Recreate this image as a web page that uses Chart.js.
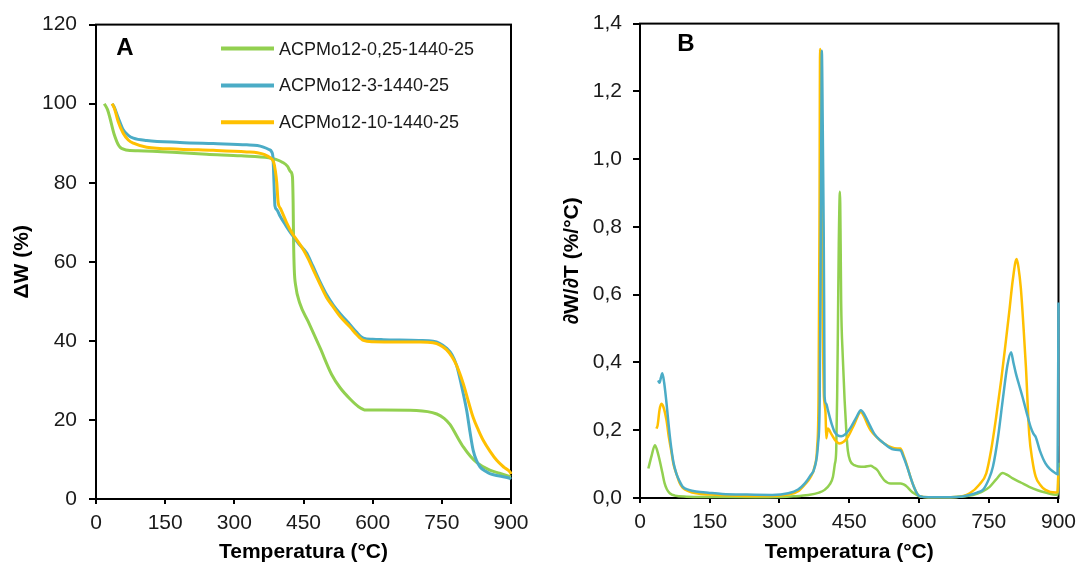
<!DOCTYPE html>
<html>
<head>
<meta charset="utf-8">
<script src="https://cdn.jsdelivr.net/npm/chart.js@4/dist/chart.umd.min.js"></script>
<style>
  html, body { margin: 0; padding: 0; background: #fff; }
  #wrap { position: relative; width: 1083px; height: 569px; overflow: hidden; }
  #cA { position: absolute; left: 0; top: 0; }
  #cB { position: absolute; left: 540px; top: 0; }
</style>
</head>
<body>
<div id="wrap">
  <canvas id="cA" width="540" height="569"></canvas>
  <canvas id="cB" width="543" height="569"></canvas>
</div>
<script>
// ---------- Data ----------
const seriesNames = ['ACPMo12-0,25-1440-25', 'ACPMo12-3-1440-25', 'ACPMo12-10-1440-25'];
const seriesColors = ['#92D050', '#4BACC6', '#FFC000'];

const xTickValues = [0, 150, 300, 450, 600, 750, 900];
const yTickValuesA = [0, 20, 40, 60, 80, 100, 120];
const yTickValuesB = [0, 0.2, 0.4, 0.6, 0.8, 1.0, 1.2, 1.4];
const yTickLabelsB = ['0,0', '0,2', '0,4', '0,6', '0,8', '1,0', '1,2', '1,4'];

// Panel A: TGA (ΔW %)
const tgaGreenT = [18, 25, 30, 39, 50, 65, 91, 166, 240, 315, 375, 390, 404, 415, 422, 426, 427.5, 428.5, 430, 433, 442, 460, 486, 511, 529, 551, 570, 585, 623, 695, 739, 755, 768, 783, 797, 812, 826, 854, 875, 900];
const tgaGreenW = [100, 98.5, 96.5, 92.4, 89.3, 88.3, 88.1, 87.7, 87.2, 86.8, 86.3, 85.9, 85.2, 84.2, 82.8, 81.5, 75, 65, 58, 54, 49.5, 44.9, 38.2, 31.5, 28.2, 25.3, 23.3, 22.5, 22.5, 22.4, 21.5, 20.4, 18.8, 15.8, 13.1, 10.8, 9.2, 7.3, 6.5, 5.6];

const tgaBlueT = [35, 40, 48, 59, 70, 81, 110, 182, 254, 327, 350, 363, 375, 381, 384, 386, 388, 392, 399, 410, 421, 428, 440, 457, 470, 486, 500, 515, 530, 551, 565, 580, 600, 623, 700, 731, 745, 760, 772, 782, 793, 804, 811, 818, 825, 833, 845, 854, 875, 898, 900];
const tgaBlueW = [100, 99, 96.5, 93.4, 92, 91.3, 90.7, 90.2, 89.9, 89.6, 89.4, 89, 88.4, 87.8, 86, 80, 74.2, 73.2, 71.6, 69.5, 67.5, 66.4, 64.5, 62.2, 59, 54.9, 51.7, 49, 46.8, 44.1, 42.2, 40.7, 40.4, 40.3, 40.1, 39.9, 39.4, 38.2, 36.5, 33.8, 28.5, 22.3, 17, 12.3, 9.8, 8.1, 7, 6.4, 5.8, 5.2, 5.0];

const tgaOrangeT = [35, 40, 48, 59, 70, 81, 110, 182, 254, 327, 350, 366, 378, 385, 389, 392, 395, 400, 413, 425, 435, 450, 460, 475, 486, 500, 515, 530, 551, 565, 580, 600, 700, 731, 745, 760, 772, 782, 797, 808, 818, 829, 840, 855, 869, 885, 898, 900];
const tgaOrangeW = [100, 98.8, 95.5, 92.5, 90.8, 90, 89, 88.5, 88.2, 87.8, 87.6, 87.1, 86.3, 85.3, 83, 80, 75, 73.5, 70, 67.3, 65.6, 63, 60.8, 57, 54.3, 51, 48.5, 46.1, 43.5, 41.6, 40.1, 39.8, 39.7, 39.5, 39, 37.8, 36, 33.8, 29, 24.5, 20.6, 17.5, 14.8, 12, 9.8, 8, 6.8, 6.3];

// Panel B: DTG (∂W/∂T %/°C)
const dtgGreenT = [18, 25, 32, 37, 42.5, 48, 53, 58, 64, 75, 100, 150, 250, 300, 330, 362, 385, 397, 408, 415, 419, 422, 424, 425.5, 427.5, 430, 431.5, 432.6, 436, 440, 444, 447, 452, 461, 482, 496, 503, 510.6, 518, 525, 539, 560, 567, 574.5, 582, 589, 603, 620, 680, 716, 735, 752, 766, 780, 790, 801.5, 820, 837, 855, 872, 897, 899, 900];
const dtgGreenV = [0.087, 0.125, 0.156, 0.14, 0.11, 0.075, 0.043, 0.025, 0.014, 0.007, 0.004, 0.003, 0.002, 0.003, 0.005, 0.009, 0.016, 0.024, 0.04, 0.063, 0.1, 0.14, 0.3, 0.485, 0.75, 0.904, 0.75, 0.58, 0.42, 0.29, 0.19, 0.14, 0.11, 0.097, 0.092, 0.095, 0.09, 0.082, 0.066, 0.053, 0.043, 0.043, 0.04, 0.033, 0.022, 0.014, 0.004, 0.002, 0.003, 0.009, 0.018, 0.033, 0.055, 0.074, 0.068, 0.058, 0.045, 0.033, 0.023, 0.016, 0.009, 0.03, 0.104];

const dtgBlueT = [39, 42, 45, 48, 52, 57, 62, 67, 72, 78, 85, 92, 105, 120.6, 150, 177, 230, 284, 319, 340, 354.6, 366, 376, 383, 386.5, 388.5, 390, 391, 393, 395, 396, 397, 400.7, 404, 408, 413, 418.5, 425, 432.6, 443, 454, 465, 475, 482, 489, 496, 503.6, 515, 525, 535, 546, 560, 567, 574.5, 582, 589, 595, 600, 620, 680, 709, 725, 737.6, 750, 759, 770, 780, 790, 798, 803, 808.5, 815, 822.7, 831, 840, 846, 851, 860, 872, 882, 893.6, 898, 900];
const dtgBlueV = [0.347, 0.34, 0.355, 0.368, 0.34, 0.28, 0.21, 0.15, 0.105, 0.073, 0.05, 0.033, 0.024, 0.019, 0.015, 0.012, 0.01, 0.009, 0.014, 0.025, 0.043, 0.065, 0.092, 0.16, 0.29, 0.7, 1.1, 1.32, 1.1, 0.8, 0.58, 0.3, 0.278, 0.26, 0.239, 0.215, 0.195, 0.185, 0.182, 0.19, 0.21, 0.237, 0.259, 0.248, 0.229, 0.21, 0.19, 0.172, 0.161, 0.15, 0.143, 0.141, 0.12, 0.092, 0.06, 0.033, 0.015, 0.006, 0.002, 0.003, 0.009, 0.016, 0.024, 0.055, 0.092, 0.18, 0.288, 0.39, 0.43, 0.4, 0.367, 0.335, 0.298, 0.255, 0.21, 0.19, 0.18, 0.14, 0.102, 0.085, 0.073, 0.07, 0.577];

const dtgOrangeT = [35.5, 38, 42, 46, 50, 57, 62, 67, 72, 78, 85, 92, 105, 121, 150, 177, 230, 284, 319, 340, 354.6, 366, 376, 381, 384, 386, 387.3, 389, 391, 393, 395, 397, 399, 400.7, 404, 411, 420, 429, 438, 447, 460, 475, 482, 490, 496, 510, 525, 540, 553, 560, 567, 574.5, 582, 589, 595, 600, 620, 680, 709, 730, 744.7, 755, 766, 777, 787, 795, 801.5, 810, 814, 819, 825, 830, 837, 844, 851, 860, 872, 893.6, 898, 900];
const dtgOrangeV = [0.205, 0.215, 0.26, 0.278, 0.27, 0.229, 0.18, 0.141, 0.1, 0.073, 0.045, 0.03, 0.02, 0.014, 0.01, 0.008, 0.006, 0.006, 0.01, 0.02, 0.04, 0.06, 0.095, 0.15, 0.3, 0.8, 1.325, 1.1, 0.8, 0.5, 0.32, 0.278, 0.25, 0.176, 0.205, 0.19, 0.17, 0.161, 0.166, 0.18, 0.215, 0.254, 0.24, 0.215, 0.2, 0.178, 0.161, 0.15, 0.146, 0.146, 0.125, 0.095, 0.06, 0.033, 0.015, 0.006, 0.002, 0.003, 0.014, 0.04, 0.073, 0.14, 0.239, 0.35, 0.465, 0.56, 0.641, 0.705, 0.68, 0.62, 0.5, 0.386, 0.19, 0.11, 0.063, 0.04, 0.024, 0.016, 0.018, 0.09];

// ---------- Helpers ----------
const FONT = "Arial, 'Liberation Sans', sans-serif";
const pts = (xs, ys) => xs.map((x, i) => ({ x: x, y: ys[i] }));

const framePlugin = {
  id: 'frame',
  beforeDatasetsDraw(chart) {
    const a = chart.chartArea, ctx = chart.ctx;
    ctx.save();
    ctx.strokeStyle = '#000';
    ctx.lineWidth = 2;
    ctx.strokeRect(a.left, a.top, a.right - a.left, a.bottom - a.top);
    ctx.restore();
  }
};

const annotPlugin = {
  id: 'annot',
  afterDraw(chart, args, opts) {
    const a = chart.chartArea, ctx = chart.ctx;
    ctx.save();
    // panel letter
    ctx.fillStyle = '#000';
    ctx.font = "bold 24px " + FONT;
    ctx.textAlign = 'center';
    ctx.textBaseline = 'middle';
    ctx.fillText(opts.letter, a.left + opts.letterDx, a.top + opts.letterDy);
    // legend
    if (opts.legend) {
      ctx.font = "18px " + FONT;
      ctx.textAlign = 'left';
      chart.data.datasets.forEach((ds, i) => {
        const y = a.top + opts.legendDy + i * opts.legendGap;
        const x0 = a.left + opts.legendDx;
        ctx.strokeStyle = ds.borderColor;
        ctx.lineWidth = 4;
        ctx.beginPath();
        ctx.moveTo(x0, y);
        ctx.lineTo(x0 + opts.legendLen, y);
        ctx.stroke();
        ctx.fillStyle = '#1a1a1a';
        ctx.fillText(ds.label, x0 + opts.legendLen + 5, y + 1);
      });
    }
    ctx.restore();
  }
};

function xScale(height) {
  return {
    type: 'linear', min: 0, max: 900,
    afterBuildTicks: s => { s.ticks = xTickValues.map(v => ({ value: v })); },
    afterFit: s => { s.height = height; },
    ticks: { color: '#1a1a1a', font: { family: FONT, size: 21 }, padding: 7, maxRotation: 0, autoSkip: false },
    grid: { drawOnChartArea: false, drawTicks: true, tickLength: 5, color: '#000', lineWidth: 2 },
    border: { display: true, color: '#000', width: 2 },
    title: { display: true, text: 'Temperatura (°C)', color: '#000', font: { family: FONT, size: 21, weight: 'bold' }, padding: { top: 0, bottom: 4 } }
  };
}

function yScale(width, max, values, labels, title, titlePad, labelPad) {
  return {
    type: 'linear', min: 0, max: max,
    afterBuildTicks: s => { s.ticks = values.map(v => ({ value: v })); },
    afterFit: s => { s.width = width; },
    ticks: { color: '#1a1a1a', font: { family: FONT, size: 21 }, padding: labelPad, autoSkip: false,
             callback: (v, i) => labels[i] },
    grid: { drawOnChartArea: false, drawTicks: true, tickLength: 7, color: '#000', lineWidth: 2 },
    border: { display: true, color: '#000', width: 2 },
    title: { display: true, text: title, color: '#000', font: { family: FONT, size: 21, weight: 'bold' }, padding: { top: titlePad, bottom: 0 } }
  };
}

function ds(label, color, data, order, width) {
  return {
    label: label, data: data, borderColor: color, backgroundColor: color,
    borderWidth: width, pointRadius: 0, fill: false, order: order,
    cubicInterpolationMode: 'monotone', clip: 6
  };
}

// ---------- Chart A ----------
new Chart(document.getElementById('cA'), {
  type: 'line',
  data: {
    datasets: [
      ds(seriesNames[0], seriesColors[0], pts(tgaGreenT, tgaGreenW), 2, 3),
      ds(seriesNames[1], seriesColors[1], pts(tgaBlueT, tgaBlueW), 1, 3),
      ds(seriesNames[2], seriesColors[2], pts(tgaOrangeT, tgaOrangeW), 0, 3)
    ]
  },
  options: {
    responsive: false, animation: false, devicePixelRatio: 1,
    layout: { padding: { left: 0, right: 29, top: 20, bottom: 0 } },
    plugins: {
      legend: { display: false }, tooltip: { enabled: false },
      annot: { letter: 'A', letterDx: 29, letterDy: 24, legend: true, legendDx: 125, legendDy: 24, legendGap: 36.8, legendLen: 53 }
    },
    scales: {
      x: xScale(70),
      y: yScale(96, 120, yTickValuesA, yTickValuesA.map(String), 'ΔW (%)', 10, 12)
    }
  },
  plugins: [framePlugin, annotPlugin]
});

// ---------- Chart B ----------
new Chart(document.getElementById('cB'), {
  type: 'line',
  data: {
    datasets: [
      ds(seriesNames[0], seriesColors[0], pts(dtgGreenT, dtgGreenV), 2, 2.5),
      ds(seriesNames[1], seriesColors[1], pts(dtgBlueT, dtgBlueV), 0, 2.5),
      ds(seriesNames[2], seriesColors[2], pts(dtgOrangeT, dtgOrangeV), 1, 2.5)
    ]
  },
  options: {
    responsive: false, animation: false, devicePixelRatio: 1,
    layout: { padding: { left: 0, right: 20, top: 22, bottom: 0 } },
    plugins: {
      legend: { display: false }, tooltip: { enabled: false },
      annot: { letter: 'B', letterDx: 46, letterDy: 21, legend: false }
    },
    scales: {
      x: xScale(71),
      y: yScale(100, 1.4, yTickValuesB, yTickLabelsB, '∂W/∂T (%/°C)', 20, 11)
    }
  },
  plugins: [framePlugin, annotPlugin]
});
</script>
</body>
</html>
